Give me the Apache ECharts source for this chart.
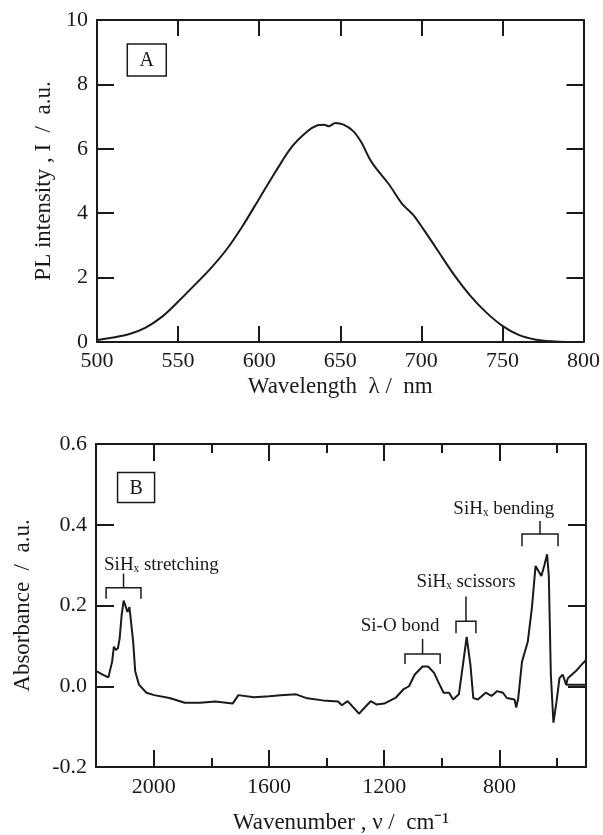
<!DOCTYPE html>
<html><head><meta charset="utf-8">
<script src="https://cdn.jsdelivr.net/npm/echarts@6/dist/echarts.min.js"></script>
<style>html,body{margin:0;padding:0;background:#fff;}#c{width:603px;height:835px;}</style>
</head><body><div id="c"></div>
<script>
// ---- Panel A: PL spectrum ----
const plWavelength = [500,510,520,530,540,550,560,570,580,590,600,610,620,630,636,640,643,647,652,658,663,668,672,680,688,695,702,710,720,730,740,750,760,770,780,790,800];
const plIntensity  = [0.06,0.14,0.25,0.45,0.78,1.25,1.76,2.28,2.88,3.62,4.45,5.28,6.05,6.55,6.73,6.75,6.70,6.80,6.75,6.55,6.20,5.70,5.40,4.90,4.30,3.95,3.45,2.85,2.10,1.45,0.92,0.50,0.22,0.08,0.02,0.0,0.0];
const plXTicks = [500,550,600,650,700,750,800];
const plYTicks = [0,2,4,6,8,10];

// ---- Panel B: IR absorbance ----
const irWavenumber = [2197,2177,2157,2144,2138,2131,2124,2118,2111,2104,2098,2091,2084,2078,2071,2064,2051,2025,1998,1945,1892,1839,1786,1726,1706,1652,1599,1559,1506,1467,1413,1360,1347,1327,1287,1267,1247,1227,1200,1161,1134,1114,1094,1067,1048,1027,1008,994,975,961,941,927,914,901,891,875,848,828,808,788,775,748,742,735,722,702,688,675,662,655,645,635,629,622,613,602,592,581,569,563,536,516,500,500,569];
const irAbsorbance = [0.037,0.029,0.022,0.061,0.098,0.090,0.094,0.118,0.176,0.212,0.200,0.184,0.196,0.192,0.110,0.037,0.004,-0.016,-0.022,-0.029,-0.041,-0.041,-0.038,-0.043,-0.022,-0.027,-0.025,-0.022,-0.020,-0.030,-0.035,-0.038,-0.047,-0.037,-0.068,-0.052,-0.037,-0.045,-0.043,-0.029,-0.008,0.0,0.029,0.049,0.049,0.033,0.004,-0.016,-0.016,-0.033,-0.020,0.053,0.122,0.053,-0.029,-0.033,-0.016,-0.024,-0.012,-0.016,-0.029,-0.033,-0.053,-0.029,0.061,0.110,0.192,0.298,0.282,0.273,0.298,0.327,0.273,0.029,-0.090,-0.037,0.020,0.029,0.004,0.020,0.037,0.053,0.065,0.004,0.004];
const irMajorTicks = [2000,1600,1200,800];
const irMinorTicks = [1800,1400,1000,600];
const irYTicks = [-0.2,0,0.2,0.4,0.6];

// ---- Annotations (data units of panel B) ----
const annLabels   = ['SiH\u2093 stretching','Si-O bond','SiH\u2093 scissors','SiH\u2093 bending'];
const annFrom     = [2165,1128,951,722];
const annTo       = [2044,1006,882,597];
const annBarY     = [0.244,0.080,0.161,0.377];
const annEndY     = [0.217,0.055,0.131,0.347];
const annStemTopY = [0.279,0.117,0.222,0.409];
const annTextX    = [1973,1145,916,785];
const annTextY    = [0.300,0.148,0.259,0.438];

const panelLabels = ['A','B'];
const panelLabelX = [530.7,2061];
const panelLabelY = [8.76,0.492];

const INK = '#1a1a1a';
const FONT = 'Liberation Serif';
const lineAx = {show:true, onZero:false, lineStyle:{color:INK,width:2}};
function tick(len, custom){ const t={show:true,inside:true,length:len,lineStyle:{color:INK,width:2}}; if(custom) t.customValues=custom; return t; }
const lbl = {color:INK, fontFamily:FONT, fontSize:22};
const plain = v => String(Math.round(v));

const chart = echarts.init(document.getElementById('c'), null, {renderer:'canvas'});
const option = {
  backgroundColor:'#fff',
  animation:false,
  grid:[
    {left:97, right:17, top:20, height:322},
    {left:96, right:17, top:444, height:326}
  ],
  xAxis:[
    {gridIndex:0, type:'value', position:'bottom', min:500, max:800, interval:50,
     axisLine:lineAx, axisTick:tick(16), splitLine:{show:false},
     axisLabel:Object.assign({margin:8, formatter:plain}, lbl),
     name:'Wavelength  \u03bb /  nm', nameLocation:'middle', nameGap:33,
     nameTextStyle:{color:INK, fontFamily:FONT, fontSize:23}},
    {gridIndex:0, type:'value', position:'top', min:500, max:800, interval:50,
     axisLine:lineAx, axisTick:tick(16), axisLabel:{show:false}, splitLine:{show:false}},
    {gridIndex:1, type:'value', position:'bottom', min:500, max:2200, inverse:true,
     axisLine:lineAx, axisTick:tick(17, irMajorTicks), splitLine:{show:false},
     axisLabel:Object.assign({margin:9, customValues:irMajorTicks, formatter:plain}, lbl),
     name:'Wavenumber , \u03bd /  cm\u207b\u00b9', nameLocation:'middle', nameGap:44,
     nameTextStyle:{color:INK, fontFamily:FONT, fontSize:23}},
    {gridIndex:1, type:'value', position:'bottom', min:500, max:2200, inverse:true,
     axisLine:lineAx, axisTick:tick(9, irMinorTicks), axisLabel:{show:false}, splitLine:{show:false}},
    {gridIndex:1, type:'value', position:'top', min:500, max:2200, inverse:true,
     axisLine:lineAx, axisTick:tick(17, irMajorTicks), axisLabel:{show:false}, splitLine:{show:false}},
    {gridIndex:1, type:'value', position:'top', min:500, max:2200, inverse:true,
     axisLine:lineAx, axisTick:tick(9, irMinorTicks), axisLabel:{show:false}, splitLine:{show:false}}
  ],
  yAxis:[
    {gridIndex:0, type:'value', position:'left', min:0, max:10, interval:2,
     axisLine:lineAx, axisTick:tick(17), splitLine:{show:false},
     axisLabel:Object.assign({margin:9, formatter:plain}, lbl),
     name:'PL intensity , I  /  a.u.', nameLocation:'middle', nameGap:42,
     nameTextStyle:{color:INK, fontFamily:FONT, fontSize:23}},
    {gridIndex:0, type:'value', position:'right', min:0, max:10, interval:2,
     axisLine:lineAx, axisTick:tick(17), axisLabel:{show:false}, splitLine:{show:false}},
    {gridIndex:1, type:'value', position:'left', min:-0.2, max:0.6, interval:0.2,
     axisLine:lineAx, axisTick:tick(18), splitLine:{show:false},
     axisLabel:Object.assign({margin:9, formatter:v=>(+v).toFixed(1)}, lbl),
     name:'Absorbance  /  a.u.', nameLocation:'middle', nameGap:62,
     nameTextStyle:{color:INK, fontFamily:FONT, fontSize:23}},
    {gridIndex:1, type:'value', position:'right', min:-0.2, max:0.6, interval:0.2,
     axisLine:lineAx, axisTick:tick(18), axisLabel:{show:false}, splitLine:{show:false}}
  ],
  series:[
    {type:'line', xAxisIndex:0, yAxisIndex:0, data:plWavelength.map((x,i)=>[x,plIntensity[i]]),
     showSymbol:false, smooth:0.3, lineStyle:{color:INK,width:2}},
    {type:'line', xAxisIndex:2, yAxisIndex:2, data:irWavenumber.map((x,i)=>[x,irAbsorbance[i]]),
     showSymbol:false, lineStyle:{color:INK,width:2}}
  ]
};
chart.setOption(option);

const gfx = [];
// panel labels with boxes
panelLabels.forEach((t,i)=>{
  const p = chart.convertToPixel({gridIndex:i}, [panelLabelX[i], panelLabelY[i]]);
  const w = i===0?39:37, h = i===0?32:30;
  gfx.push({type:'rect', shape:{x:p[0]-w/2, y:p[1]-h/2, width:w, height:h},
            style:{fill:'#fff', stroke:INK, lineWidth:1.5}});
  gfx.push({type:'text', x:p[0], y:p[1]+1, style:{text:t, fill:INK, font:'20px "Liberation Serif"', align:'center', verticalAlign:'middle'}});
});
// bracket annotations
annLabels.forEach((t,i)=>{
  const P = (x,y)=>chart.convertToPixel({gridIndex:1}, [x,y]);
  const a = P(annFrom[i], annEndY[i]), b = P(annFrom[i], annBarY[i]);
  const c = P(annTo[i], annBarY[i]), d = P(annTo[i], annEndY[i]);
  const mid = (annFrom[i]+annTo[i])/2;
  const s0 = P(mid, annBarY[i]), s1 = P(mid, annStemTopY[i]);
  gfx.push({type:'polyline', shape:{points:[a,b,c,d]}, style:{stroke:INK, lineWidth:1.5, fill:null}});
  gfx.push({type:'line', shape:{x1:s0[0], y1:s0[1], x2:s1[0], y2:s1[1]}, style:{stroke:INK, lineWidth:1.5}});
  const tp = P(annTextX[i], annTextY[i]);
  gfx.push({type:'text', x:tp[0], y:tp[1], style:{text:t, fill:INK, font:'19px "Liberation Serif"', align:'center', verticalAlign:'middle'}});
});
chart.setOption({graphic:gfx});
</script>
</body></html>
